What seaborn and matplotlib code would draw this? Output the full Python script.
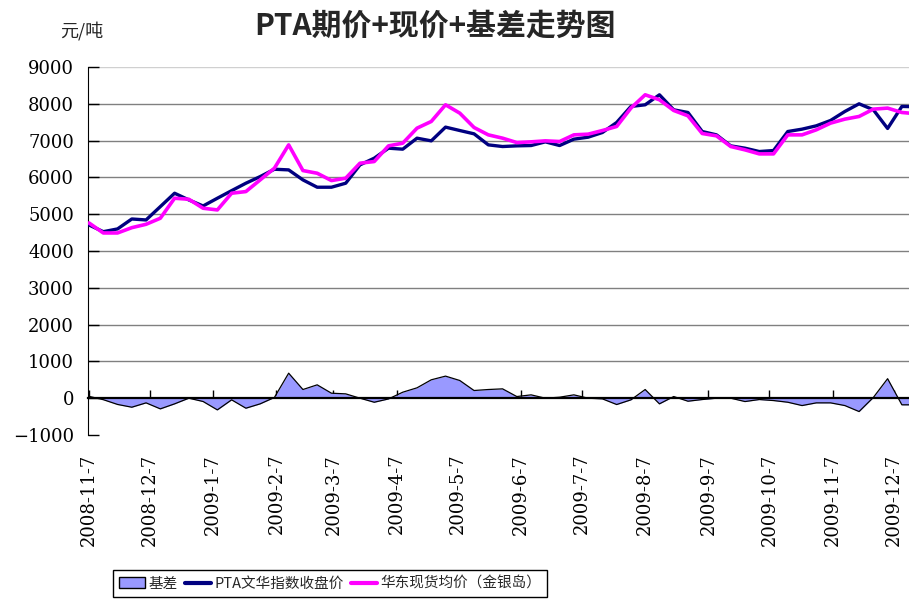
import matplotlib
matplotlib.use('Agg')
import matplotlib.pyplot as plt
import matplotlib.dates as mdates
from matplotlib.patches import Patch
from matplotlib.lines import Line2D
from matplotlib.ticker import FuncFormatter, MultipleLocator
import pandas as pd
import seaborn as sns

# weekly data, first week 2008-11-7
start_date = '2008-11-07'
n_weeks = 59

futures = [4707, 4525, 4600, 4870, 4844, 5206, 5570, 5388, 5224, 5434,
           5640, 5842, 6022, 6222, 6204, 5932, 5733, 5733, 5842, 6340,
           6522, 6794, 6767, 7066, 6993, 7366, 7274, 7184, 6884, 6839,
           6857, 6866, 6966, 6866, 7039, 7093, 7220, 7492, 7928, 7973,
           8245, 7837, 7764, 7247, 7156, 6857, 6794, 6703, 6730, 7247,
           7311, 7402, 7547, 7791, 8000, 7837, 7330, 7928, 7920]

spot = [4762, 4490, 4490, 4634, 4726, 4890, 5434, 5406, 5162, 5116,
        5570, 5615, 5932, 6250, 6884, 6186, 6113, 5914, 5978, 6386,
        6431, 6857, 6930, 7338, 7520, 7973, 7746, 7356, 7156, 7066,
        6947, 6966, 6993, 6975, 7156, 7175, 7274, 7384, 7883, 8245,
        8109, 7819, 7673, 7193, 7129, 6839, 6748, 6639, 6639, 7156,
        7156, 7293, 7475, 7583, 7656, 7855, 7883, 7764, 7730]

basis = [50, -40, -170, -245, -127, -290, -154, 0, -90, -318,
         -45, -272, -154, 20, 680, 236, 363, 136, 118, 0,
         -110, -20, 163, 282, 500, 600, 481, 209, 236, 254,
         45, 91, 0, 27, 91, 0, -18, -172, -45, 236,
         -154, 45, -82, -36, 0, 0, -91, -36, -64, -110,
         -200, -127, -127, -200, -363, 20, 530, -180, -180]

series_names = ['基差', 'PTA文华指数收盘价', '华东现货均价（金银岛）']
title = 'PTA期价+现价+基差走势图'
unit = '元/吨'

dates = pd.date_range(start_date, periods=n_weeks, freq='7D')
df = pd.DataFrame({'date': dates, 'futures': futures, 'spot': spot, 'basis': basis})

sns.set_style('white')
plt.rcParams['font.family'] = ['DejaVu Serif', 'Noto Sans CJK SC']
cjk = ['Noto Sans CJK SC', 'DejaVu Sans']

fig = plt.figure(figsize=(9.09, 6.02), dpi=100)
ax = fig.add_axes([88 / 909, 1 - 435 / 602, 1 - 88 / 909, (435 - 67) / 602])

for v in range(1000, 10000, 1000):
    ax.axhline(v, color='#808080' if v < 9000 else '#d0d0d0', lw=1.0, zorder=0)

ax.fill_between(df['date'], df['basis'], 0, color='#9999ff', lw=0, zorder=1)
sns.lineplot(data=df, x='date', y='basis', color='black', lw=0.9, ax=ax, zorder=2)
sns.lineplot(data=df, x='date', y='futures', color='#000080', lw=2.4, ax=ax, zorder=3)
sns.lineplot(data=df, x='date', y='spot', color='#ff00ff', lw=2.6, ax=ax, zorder=4)

ax.set_ylim(-1000, 9000)
ax.yaxis.set_major_locator(MultipleLocator(1000))
ax.set_xlim(dates[0] - pd.Timedelta(days=0.5), dates[0] + pd.Timedelta(days=402.5))
ax.xaxis.set_major_locator(mdates.MonthLocator(bymonthday=7))
ax.xaxis.set_major_formatter(FuncFormatter(
    lambda x, pos: '{0.year}-{0.month}-{0.day}'.format(mdates.num2date(x))))

ax.spines['top'].set_visible(False)
ax.spines['right'].set_visible(False)
ax.spines['left'].set_color('black')
ax.spines['bottom'].set_position(('data', 0))
ax.spines['bottom'].set_color('black')
ax.spines['bottom'].set_linewidth(1.6)
ax.tick_params(axis='y', direction='in', length=8, width=1, labelsize=13,
               left=True, pad=10, colors='black')
ax.tick_params(axis='x', direction='in', length=6, width=1, labelsize=13,
               bottom=True, pad=40, colors='black', labelrotation=90)
ax.set_xlabel('')
ax.set_ylabel('')

fig.text(0.478, 0.958, title, ha='center', va='center', fontsize=21.5,
         fontweight='bold', family=cjk)
fig.text(0.09, 0.948, unit, ha='center', va='center', fontsize=13, family=cjk)

handles = [Patch(facecolor='#9999ff', edgecolor='black', lw=1),
           Line2D([], [], color='#000080', lw=3),
           Line2D([], [], color='#ff00ff', lw=3)]
leg = fig.legend(handles, series_names, loc='upper center', bbox_to_anchor=(0.363, 0.053),
                 ncol=3, frameon=True, fancybox=False, framealpha=1, edgecolor='black',
                 prop={'family': cjk, 'size': 10.5}, handlelength=1.8, handletextpad=0.2,
                 columnspacing=0.5, borderpad=0.45, borderaxespad=0)
leg.get_frame().set_linewidth(1.0)

fig.savefig('out.png', dpi=100)
